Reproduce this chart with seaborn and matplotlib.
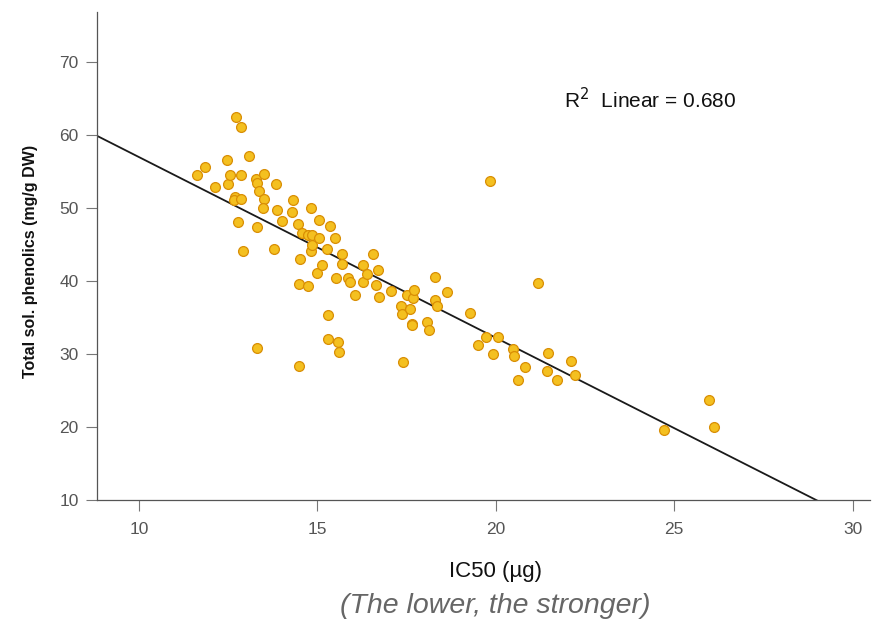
import numpy as np
import pandas as pd
import matplotlib
matplotlib.use("Agg")
import matplotlib.pyplot as plt
import seaborn as sns

# IC50 (ug) vs total soluble phenolics (mg/g DW)
ic50 = [11.63, 11.84, 12.12, 12.47, 12.49, 12.54, 12.72, 12.85, 12.85, 12.69,
        12.67, 12.85, 12.78, 12.91, 13.08, 13.28, 13.30, 13.37, 13.50, 13.50,
        13.47, 13.30, 13.31, 13.84, 13.87, 14.01, 13.78, 14.32, 14.29, 14.46,
        14.57, 14.51, 14.48, 14.48, 14.74, 14.82, 14.73, 14.85, 14.82, 14.85,
        15.04, 15.04, 14.98, 15.12, 15.26, 15.35, 15.49, 15.52, 15.29, 15.29,
        15.57, 15.60, 15.69, 15.68, 15.85, 15.91, 16.05, 16.27, 16.27, 16.39,
        16.56, 16.64, 16.70, 16.72, 17.06, 17.33, 17.37, 17.40, 17.51, 17.59,
        17.67, 17.70, 17.65, 17.64, 18.07, 18.13, 18.30, 18.29, 18.34, 18.63,
        19.27, 19.49, 19.72, 19.84, 19.91, 20.06, 20.48, 20.51, 20.62, 20.82,
        21.18, 21.45, 21.43, 21.71, 22.10, 22.21, 24.71, 25.97, 26.11]
phenolics = [54.4, 55.5, 52.8, 56.5, 53.2, 54.5, 62.4, 61.1, 54.4, 51.5,
             51.1, 51.2, 48.1, 44.0, 57.1, 53.9, 53.4, 52.3, 54.6, 51.2,
             50.0, 47.4, 30.8, 53.3, 49.7, 48.2, 44.3, 51.0, 49.4, 47.7,
             46.5, 43.0, 39.5, 28.3, 39.3, 50.0, 46.3, 46.2, 44.0, 44.9,
             48.3, 45.8, 41.0, 42.1, 44.3, 47.5, 45.9, 40.4, 35.3, 32.0,
             31.6, 30.2, 43.6, 42.3, 40.4, 39.8, 38.0, 42.2, 39.8, 40.9,
             43.6, 39.4, 41.5, 37.7, 38.6, 36.6, 35.4, 28.8, 38.0, 36.1,
             37.6, 38.7, 34.1, 33.9, 34.3, 33.2, 40.5, 37.4, 36.6, 38.4,
             35.6, 31.2, 32.3, 53.6, 29.9, 32.3, 30.6, 29.7, 26.4, 28.2,
             39.7, 30.1, 27.6, 26.4, 29.0, 27.1, 19.6, 23.6, 20.0]

df = pd.DataFrame({"ic50": ic50, "phenolics": phenolics})

sns.set_style("white")
plt.rcParams["font.family"] = ["Liberation Sans", "DejaVu Sans"]

fig = plt.figure(figsize=(8.73, 6.24), dpi=100)
ax = fig.add_axes([0.111, 0.199, 0.886, 0.782])
ax.set_xlim(8.82, 30.5)
ax.set_ylim(10, 76.8)

sns.regplot(data=df, x="ic50", y="phenolics", ax=ax, ci=None, truncate=False,
            scatter_kws=dict(s=50, color="#F4C020", edgecolor="#D98E04",
                             linewidths=0.9, alpha=1, zorder=3),
            line_kws=dict(color="#1a1a1a", lw=1.3, zorder=2))

ax.set_xticks([10, 15, 20, 25, 30])
ax.set_yticks([10, 20, 30, 40, 50, 60, 70])
ax.tick_params(axis="both", length=8, width=0.8, color="#777777",
               labelcolor="#555555", labelsize=12.5, bottom=True, left=True)
ax.tick_params(axis="y", pad=5)
ax.tick_params(axis="x", pad=8)
for side in ["top", "right"]:
    ax.spines[side].set_visible(False)
for side in ["left", "bottom"]:
    ax.spines[side].set_color("#555555")
    ax.spines[side].set_linewidth(0.9)

ax.set_ylabel("Total sol. phenolics (mg/g DW)", fontsize=11.5,
              fontweight="bold", color="#111111")
ax.yaxis.set_label_coords(-0.076, 0.488)
ax.set_xlabel("IC50 (\u00b5g)", fontsize=16, color="#111111")
ax.xaxis.set_label_coords(0.515, -0.125)

ax.text(21.9, 64.8, r"R$^2$  Linear = 0.680", fontsize=15, color="#111111",
        va="center", ha="left")

fig.text(0.567, 0.018, "(The lower, the stronger)", fontsize=20.5,
         color="#666666", style="italic", ha="center", va="baseline")

fig.savefig("out.png", dpi=100)
